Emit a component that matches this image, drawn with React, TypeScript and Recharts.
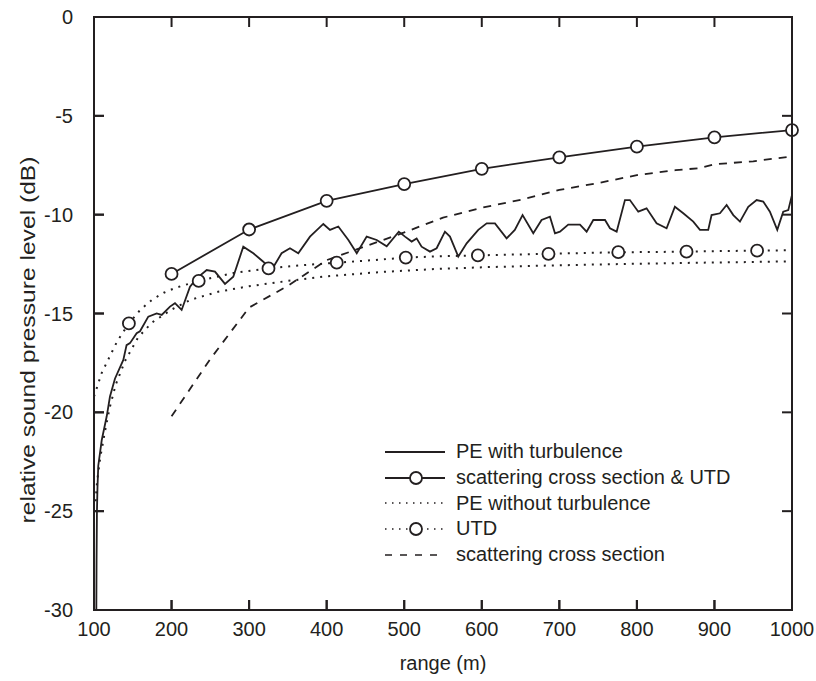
import { LineChart, Line, XAxis, YAxis, Legend, Label } from "recharts";

const INK = "#231f20";
const FONT = "'Liberation Sans', Arial, Helvetica, sans-serif";

const X_TICKS = [100, 200, 300, 400, 500, 600, 700, 800, 900, 1000];
const Y_TICKS = [-30, -25, -20, -15, -10, -5, 0];
const X_DOMAIN = [100, 1000];
const Y_DOMAIN = [-30, 0];

// [range (m), level (dB)]
const peTurbulence = [
  [103, -30], [103.3, -27.5], [103.8, -25], [104.5, -23.8], [105.5, -22.7], [110, -21.4],
  [116.4, -20.2], [120.6, -19.2], [127, -18.3], [137.8, -17.35], [142, -16.6], [146.4, -16.5],
  [155, -16.0], [159.3, -15.9], [170, -15.16], [180.8, -15.0], [187.3, -15.07], [198, -14.65],
  [204.4, -14.48], [213, -14.82], [223.8, -13.64], [232.4, -13.22], [245.3, -12.8], [256, -12.88],
  [268.9, -13.5], [279.6, -13.14], [292.5, -11.62], [305.4, -11.95], [318.3, -12.38], [329, -12.8],
  [341.9, -11.95], [352.7, -11.7], [363.4, -11.95], [378.5, -11.11], [395.7, -10.47], [404.3, -10.77],
  [415, -10.6], [428, -11.28], [438.8, -11.95], [451.6, -11.11], [464.5, -11.28], [477.4, -11.6],
  [493, -10.86], [501, -11.11], [509.6, -11.36], [516, -11.2], [522.4, -11.62], [533.2, -11.87],
  [541.8, -11.7], [552.5, -10.86], [559, -11.11], [569.7, -12.12], [580.5, -11.45], [595.5, -10.77],
  [606.3, -10.44], [617, -10.44], [632, -11.2], [642.6, -10.77], [652.6, -10.02], [666.4, -10.94],
  [677.1, -10.27], [687.9, -10.1], [694.4, -10.94], [700.8, -10.86], [711.5, -10.5], [726.6, -10.5],
  [735.2, -10.86], [743.8, -10.27], [758.9, -10.27], [765.3, -10.69], [773.9, -10.86], [784.6, -9.26],
  [791, -9.26], [801.8, -9.85], [812.5, -9.68], [825.4, -10.44], [838.3, -10.69], [849, -9.6],
  [859.8, -9.93], [872.7, -10.35], [881.3, -10.77], [892, -10.77], [896.3, -10.02], [907.1, -9.93],
  [915.7, -9.51], [924.3, -10.02], [932.9, -10.35], [943.6, -9.6], [954.4, -9.26], [962.9, -9.34],
  [971.5, -9.85], [981, -10.77], [988.7, -9.85], [995.2, -9.77], [1000, -9.0],
];

const scatteringUtd = [
  [200, -13.0], [300, -10.75], [400, -9.3], [500, -8.45], [600, -7.68],
  [700, -7.1], [800, -6.56], [900, -6.09], [1000, -5.72],
];

const peNoTurbulence = [
  [102, -24.5], [104, -23.5], [108, -22.3], [114, -21.0], [120, -19.8], [128, -18.6],
  [140, -17.4], [157, -16.2], [175, -15.45], [200, -14.8], [225, -14.3], [260, -13.9],
  [300, -13.62], [350, -13.35], [400, -13.12], [470, -12.9], [540, -12.75], [610, -12.65],
  [680, -12.58], [750, -12.52], [820, -12.47], [880, -12.43], [940, -12.4], [1000, -12.36],
];

const utdCurve = [
  [100, -19.2], [105, -18.6], [110, -18.0], [115, -17.6], [120, -17.2], [130, -16.4],
  [145, -15.5], [160, -14.8], [175, -14.3], [190, -13.95], [205, -13.7], [235, -13.35],
  [280, -12.95], [325, -12.72], [370, -12.55], [413, -12.43], [460, -12.3], [502, -12.17],
  [550, -12.1], [595, -12.06], [640, -12.02], [686, -11.98], [730, -11.94], [776, -11.9],
  [820, -11.89], [864, -11.87], [910, -11.84], [955, -11.82], [1000, -11.8],
];

const utdMarkers = [
  [145, -15.5], [235, -13.35], [325, -12.72], [413, -12.43], [502, -12.17],
  [595, -12.06], [686, -11.98], [776, -11.9], [864, -11.87], [955, -11.82],
];

const scatteringCs = [
  [200, -20.2], [250, -17.3], [300, -14.7], [350, -13.6], [400, -12.3], [450, -11.6],
  [500, -10.9], [550, -10.15], [600, -9.65], [650, -9.25], [700, -8.75], [750, -8.4],
  [800, -8.0], [850, -7.75], [880, -7.65], [900, -7.45], [950, -7.3], [1000, -7.05],
];

const SERIES_NAMES = [
  "PE with turbulence",
  "scattering cross section & UTD",
  "PE without turbulence",
  "UTD",
  "scattering cross section",
];

const toRows = (pairs: number[][]) => pairs.map(([x, y]) => ({ x, y }));

const DOTTED = "2 6";
const DASHED = "8 7";

// chart size and plot box (margins + axis sizes below)
const W = 816;
const H = 681;
const MARGIN = { top: 17, right: 24, bottom: 0, left: 0 };
const Y_AXIS_W = 94;
const X_AXIS_H = 71;
const PLOT = {
  left: MARGIN.left + Y_AXIS_W,
  right: W - MARGIN.right,
  top: MARGIN.top,
  bottom: H - MARGIN.bottom - X_AXIS_H,
};

const LegendSymbol = ({ index }: { index: number }) => {
  const dash = index === 2 || index === 3 ? "1.5 5.5" : index === 4 ? "7 8" : undefined;
  const circle = index === 1 || index === 3;
  return (
    <svg width={60} height={16} style={{ display: "block" }}>
      <line x1={0} x2={60} y1={8} y2={8} stroke={INK} strokeWidth={index >= 2 ? 1.6 : 2} strokeDasharray={dash} />
      {circle && <circle cx={31} cy={8} r={6} fill="#fff" stroke={INK} strokeWidth={1.8} />}
    </svg>
  );
};

const renderLegend = () => (
  <div style={{ fontFamily: FONT, fontSize: 20, color: INK }}>
    {SERIES_NAMES.map((name, i) => (
      <div key={name} style={{ display: "flex", alignItems: "center", height: 25.8, lineHeight: "25.8px" }}>
        <LegendSymbol index={i} />
        <span style={{ marginLeft: 11, whiteSpace: "nowrap" }}>{name}</span>
      </div>
    ))}
  </div>
);

const YTitle = () => (
  <text
    x={0}
    y={0}
    transform="translate(35,340) rotate(-90)"
    textAnchor="middle"
    textLength={367}
    lengthAdjust="spacingAndGlyphs"
    fill={INK}
    style={{ fontFamily: FONT, fontSize: 20 }}
  >
    relative sound pressure level (dB)
  </text>
);

// box frame with inward ticks on all four sides
const Frame = () => {
  const sx = (v: number) => PLOT.left + ((v - X_DOMAIN[0]) / (X_DOMAIN[1] - X_DOMAIN[0])) * (PLOT.right - PLOT.left);
  const sy = (v: number) => PLOT.bottom - ((v - Y_DOMAIN[0]) / (Y_DOMAIN[1] - Y_DOMAIN[0])) * (PLOT.bottom - PLOT.top);
  const len = 10;
  return (
    <svg width={W} height={H} style={{ position: "absolute", left: 0, top: 0, zIndex: 5, pointerEvents: "none" }}>
      <g stroke={INK} strokeWidth={2} fill="none">
        <rect x={PLOT.left} y={PLOT.top} width={PLOT.right - PLOT.left} height={PLOT.bottom - PLOT.top} />
        {X_TICKS.map((t) => (
          <g key={`x${t}`}>
            <line x1={sx(t)} x2={sx(t)} y1={PLOT.top} y2={PLOT.top + len} />
            <line x1={sx(t)} x2={sx(t)} y1={PLOT.bottom} y2={PLOT.bottom - len} />
          </g>
        ))}
        {Y_TICKS.map((t) => (
          <g key={`y${t}`}>
            <line x1={PLOT.left} x2={PLOT.left + len} y1={sy(t)} y2={sy(t)} />
            <line x1={PLOT.right} x2={PLOT.right - len} y1={sy(t)} y2={sy(t)} />
          </g>
        ))}
      </g>
    </svg>
  );
};

export default function App() {
  const tickStyle = { fill: INK, fontSize: 20, fontFamily: FONT };
  return (
    <div style={{ position: "absolute", left: 0, top: 0, width: W, height: H, background: "#fff" }}>
      <LineChart width={W} height={H} margin={MARGIN}>
        <XAxis
          xAxisId="b"
          dataKey="x"
          type="number"
          domain={X_DOMAIN}
          ticks={X_TICKS}
          height={X_AXIS_H}
          tickSize={-10}
          tickMargin={22}
          tick={tickStyle}
          stroke={INK}
          strokeWidth={2}
        >
          <Label value="range (m)" position="insideBottom" offset={11} fill={INK} style={{ fontSize: 20, fontFamily: FONT }} />
        </XAxis>
        <YAxis
          yAxisId="l"
          type="number"
          domain={Y_DOMAIN}
          ticks={Y_TICKS}
          width={Y_AXIS_W}
          tickSize={-10}
          tickMargin={31}
          tick={tickStyle}
          stroke={INK}
          strokeWidth={2}
        >
          <Label content={<YTitle />} />
        </YAxis>
        <Line xAxisId="b" yAxisId="l" data={toRows(scatteringCs)} dataKey="y" name={SERIES_NAMES[4]}
          stroke={INK} strokeWidth={1.8} strokeDasharray={DASHED} dot={false} isAnimationActive={false} />
        <Line xAxisId="b" yAxisId="l" data={toRows(peNoTurbulence)} dataKey="y" name={SERIES_NAMES[2]}
          stroke={INK} strokeWidth={2} strokeDasharray={DOTTED} dot={false} isAnimationActive={false} />
        <Line xAxisId="b" yAxisId="l" data={toRows(utdCurve)} dataKey="y" name={SERIES_NAMES[3]}
          stroke={INK} strokeWidth={2} strokeDasharray={DOTTED} dot={false} isAnimationActive={false} />
        <Line xAxisId="b" yAxisId="l" data={toRows(peTurbulence)} dataKey="y" name={SERIES_NAMES[0]}
          stroke={INK} strokeWidth={1.8} dot={false} isAnimationActive={false} />
        <Line xAxisId="b" yAxisId="l" data={toRows(scatteringUtd)} dataKey="y" name={SERIES_NAMES[1]}
          stroke={INK} strokeWidth={1.8} dot={{ r: 6, fill: "#fff", stroke: INK, strokeWidth: 1.8 }}
          isAnimationActive={false} />
        <Line xAxisId="b" yAxisId="l" data={toRows(utdMarkers)} dataKey="y" name="UTD markers" legendType="none"
          stroke="none" dot={{ r: 6, fill: "#fff", stroke: INK, strokeWidth: 1.8 }} isAnimationActive={false} />
        <Legend
          layout="vertical"
          align="center"
          verticalAlign="middle"
          content={renderLegend}
          wrapperStyle={{ left: 385, top: 439, width: 420 }}
        />
      </LineChart>
      <Frame />
    </div>
  );
}
